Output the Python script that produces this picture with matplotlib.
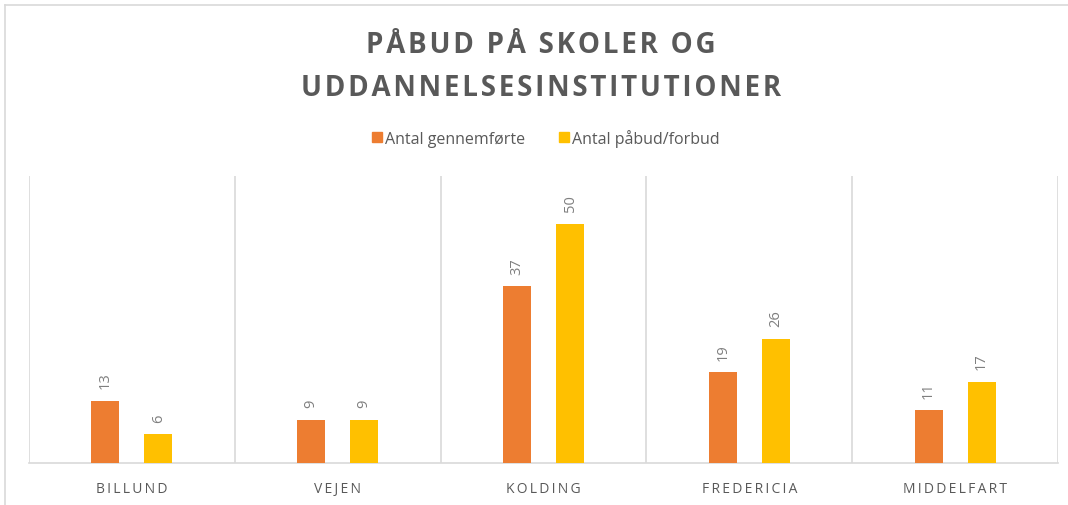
"""Påbud på skoler og uddannelsesinstitutioner - grupperet søjlediagram."""

import matplotlib

matplotlib.use("Agg")
import matplotlib.pyplot as plt
import numpy as np
from matplotlib.lines import Line2D

KOMMUNER = ["BILLUND", "VEJEN", "KOLDING", "FREDERICIA", "MIDDELFART"]
GENNEMFOERTE = [13, 9, 37, 19, 11]
PAABUD = [6, 9, 50, 26, 17]
SERIE_NAVNE = ["Antal gennemførte", "Antal påbud/forbud"]
TITEL_LINJER = ["PÅBUD PÅ SKOLER OG", "UDDANNELSESINSTITUTIONER"]

ORANGE = "#ED7D31"
GUL = "#FFC000"
TEKST = "#595959"
LINJE = "#D9D9D9"

W, H = 1068, 506

plt.rcParams["font.family"] = ["Open Sans", "DejaVu Sans"]


def spaced(text: str, sep: str = "\u2009") -> str:
    """Excel-agtig spærret skrift: smalle mellemrum mellem bogstaverne."""
    return sep.join(text)


def main() -> None:
    fig = plt.figure(figsize=(W / 100, H / 100), dpi=100)
    ax = fig.add_axes([29 / W, 42 / H, 1029 / W, 287 / H])

    x = np.arange(len(KOMMUNER))
    offset = 0.129
    width = 0.136
    serier = [(GENNEMFOERTE, ORANGE, -offset), (PAABUD, GUL, offset)]
    for values, color, dx in serier:
        bars = ax.bar(x + dx, values, width=width, color=color, zorder=3)
        for bar, value in zip(bars, values):
            ax.annotate(
                str(value),
                (bar.get_x() + bar.get_width() / 2, bar.get_height()),
                xytext=(0, 9),
                textcoords="offset points",
                ha="center",
                va="bottom",
                rotation=90,
                fontsize=10.5,
                color="#7F7F7F",
            )

    ax.set_xlim(-0.5, len(KOMMUNER) - 0.5)
    ax.set_ylim(0, 60)
    for boundary in np.arange(-0.5, len(KOMMUNER), 1.0):
        ax.axvline(boundary, color=LINJE, lw=1.2, zorder=1)
    for side in ["top", "right", "left"]:
        ax.spines[side].set_visible(False)
    ax.spines["bottom"].set_color(LINJE)
    ax.spines["bottom"].set_linewidth(1.2)
    ax.set_yticks([])
    ax.set_xticks(x)
    ax.set_xticklabels([spaced(k) for k in KOMMUNER], fontsize=10, color=TEKST)
    ax.tick_params(axis="x", length=0, pad=13)

    # titel i to linjer, spærret med hårfine mellemrum
    for line, baseline in zip(TITEL_LINJER, [53, 96]):
        fig.text(
            541 / W, 1 - baseline / H, spaced(line, "\u200a"),
            ha="center", va="baseline", fontsize=20, fontweight="bold",
            color=TEKST,
        )

    handles = [
        Line2D([], [], marker="s", linestyle="", markersize=7.5, color=c)
        for c in (ORANGE, GUL)
    ]
    fig.legend(
        handles, SERIE_NAVNE,
        loc="center", bbox_to_anchor=(545 / W, 1 - 139 / H),
        ncol=2, frameon=False, fontsize=11.5, labelcolor=TEKST,
        handletextpad=0.1, columnspacing=2.0, handlelength=0.8,
    )

    # ydre diagramramme
    fig.add_artist(Line2D([5 / W, 1], [1 - 6 / H] * 2, color=LINJE, lw=1.2))
    fig.add_artist(Line2D([5 / W] * 2, [0, 1 - 6 / H], color=LINJE, lw=1.2))

    fig.savefig("out.png", dpi=100)
    plt.close(fig)


if __name__ == "__main__":
    main()
